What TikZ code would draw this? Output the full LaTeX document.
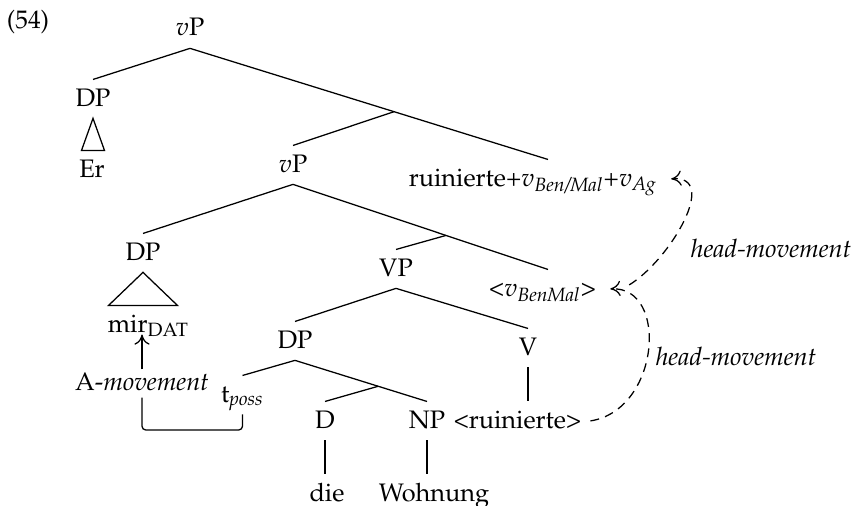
\documentclass[tikz,border=0pt]{standalone}
\usepackage[T1]{fontenc}
\usepackage{mathpazo}
\usepackage{amsmath}
\usetikzlibrary{calc,arrows.meta}

\tikzset{
  cat/.style={anchor=base, inner sep=3.33pt, text height=6.9pt, text depth=1.3pt},
  lbl/.style={anchor=base, inner sep=1pt},
  mvarrow/.style={-{To[length=4pt,width=6pt]}},
  hmove/.style={mvarrow, dash pattern=on 3.5pt off 2.5pt},
}

\begin{document}
\begin{tikzpicture}[x=1.388mm, y=-1.388mm, line width=0.5pt]
\useasboundingbox (0,0) rectangle (85.4,50.5);
\node[lbl] (ex) at (2.8,2.85) {(54)};
%upper vP
\node[cat] (vPtop) at (19.0,3.6) {$v$P};
\node[cat] (dpEr) at (9.3,10.6) {DP};
\node[cat] (er) at (9.2,17.7) {Er};
\node[cat] (vPmid) at (29.3,17.2) {$v$P};
\node[cat] (ruin) at (53.3,18.6) {ruinierte+$v_{\textit{Ben/Mal}}$+$v_{\textit{Ag}}$};
\coordinate (ruinTop) at ($(ruin.north)+(1.5,0)$);
\draw (vPtop.south) -- (dpEr.north);
\draw (vPtop.south) -- (ruinTop);
\draw ($(vPtop.south)!0.57!(ruinTop)$) -- (vPmid.north);
\draw (dpEr.south) -- ($(dpEr.south |- er.north)+(1.15,0)$)
  -- ($(dpEr.south |- er.north)+(-1.15,0)$) -- cycle;
%lower vP
\node[cat] (dpMir) at (14.3,26.0) {DP};
\node[cat] (mir) at (14.85,33.2) {mir$_{\text{DAT}}$};
\node[cat] (VP) at (39.6,27.6) {VP};
\node[cat] (vBen) at (54.25,29.6) {<$v_{\textit{BenMal}}$>};
\coordinate (vBenTop) at ($(vBen.north)+(0.55,0)$);
\draw (vPmid.south) -- (dpMir.north);
\draw (vPmid.south) -- (vBenTop);
\draw ($(vPmid.south)!0.6!(vBenTop)$) -- (VP.north);
\draw (dpMir.south) -- ($(dpMir.south |- mir.north)+(3.45,0)$)
  -- ($(dpMir.south |- mir.north)+(-3.45,0)$) -- cycle;
%VP
\node[cat] (dpLow) at (29.5,34.8) {DP};
\node[cat] (V) at (52.8,35.5) {V};
\node[cat] (tposs) at (24.25,40.2) {t$_{\textit{poss}}$};
\node[cat] (D) at (32.5,42.8) {D};
\node[cat] (NP) at (42.7,42.8) {NP};
\node[cat] (ruinV) at (51.75,42.8) {<ruinierte>};
\node[cat] (die) at (32.7,50.1) {die};
\node[cat] (wohnung) at (43.4,50.1) {Wohnung};
\draw (VP.south) -- (dpLow.north);
\draw (VP.south) -- (V.north);
\draw (dpLow.south) -- (tposs.north);
\draw (dpLow.south) -- (NP.north);
\draw ($(dpLow.south)!0.63!(NP.north)$) -- (D.north);
\draw (V.south) -- (V.south |- ruinV.north);
\draw (D.south) -- (D.south |- die.north);
\draw (NP.south) -- (NP.south |- wohnung.north);
%movement
\node[lbl, text depth=1.8pt] (amov) at (14.2,39.0) {A-\textit{movement}};
\coordinate (mirFoot) at ([yshift=-1pt]mir.base);
\coordinate (brk) at (0,43.0);
\draw[mvarrow] (amov.north) -- (amov.north |- mirFoot);
\draw[rounded corners=1.5pt] (amov.south) -- (amov.south |- brk) -| (tposs.south);
\node[lbl] (hm1) at (77.1,25.7) {\textit{head-movement}};
\node[lbl] (hm2) at (73.6,36.5) {\textit{head-movement}};
\draw[hmove] (ruinV.east) .. controls (66.0,41.0) and (66.9,28.6) .. ([xshift=2pt]vBen.east);
\draw[hmove] ($(vBen.east)+(2.4,-0.4)$) .. controls (67.0,26.0) and (72.0,17.5) .. ([xshift=2pt]ruin.east);
\end{tikzpicture}
\end{document}
